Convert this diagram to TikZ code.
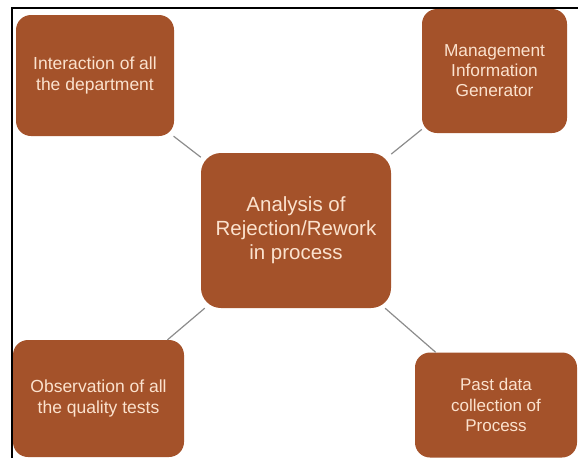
\documentclass[tikz,border=0pt]{standalone}
\usepackage{fontspec}
\setmainfont{Liberation Sans}
\definecolor{boxfill}{RGB}{164,82,42}
\definecolor{boxtext}{RGB}{251,226,206}
\definecolor{linkgray}{RGB}{140,140,140}
\begin{document}
\begin{tikzpicture}[x=1pt,y=-1pt,
  box/.style={fill=boxfill, text=boxtext, rounded corners=15pt, align=center,
    inner sep=0pt, anchor=center},
  link/.style={draw=linkgray, line width=1.2pt}]
\useasboundingbox (0,0) rectangle (578,458);
% frame edges
\draw[line width=1.5pt] (12,458) -- (12,8) -- (578,8);

% central box
\node[box, rounded corners=20pt, minimum width=190pt, minimum height=155pt,
  font=\fontsize{20.5}{24}\selectfont] (c) at (296,230.5)
  {Analysis of\\Rejection/Rework\\in process};

% surrounding boxes
\node[box, minimum width=158pt, minimum height=121pt,
  font=\fontsize{17.5}{21}\selectfont] (tl) at (95,75.5)
  {Interaction of all\\the department};
\node[box, minimum width=145pt, minimum height=124pt,
  font=\fontsize{17.3}{20}\selectfont] (tr) at (494.5,71)
  {Management\\Information\\Generator};
\node[box, minimum width=171pt, minimum height=117pt,
  font=\fontsize{17.5}{21.5}\selectfont] (bl) at (98.5,398.5)
  {Observation of all\\the quality tests};
\node[box, minimum width=162pt, minimum height=105pt,
  font=\fontsize{17}{20.5}\selectfont] (br) at (496,405)
  {Past data\\collection of\\Process};

% connectors
\draw[link] (c) -- (tl);
\draw[link] (c) -- (tr);
\draw[link] (c) -- (bl);
\draw[link] (c) -- (br);
\end{tikzpicture}
\end{document}
